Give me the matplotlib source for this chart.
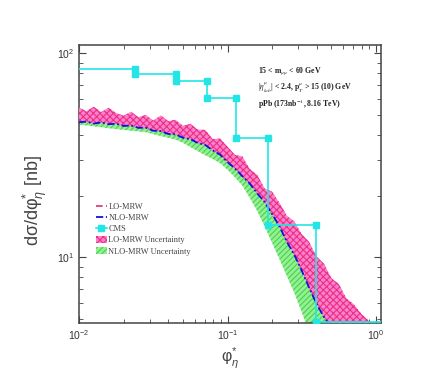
import matplotlib
matplotlib.use("Agg")
import matplotlib.pyplot as plt
from matplotlib.ticker import LogLocator, NullFormatter
from matplotlib.patches import Patch
from matplotlib.lines import Line2D

# ---------------- data ----------------
phi = [0.0100, 0.0112, 0.0126, 0.0141, 0.0158, 0.0178, 0.0200, 0.0224, 0.0251, 0.0282,
       0.0316, 0.0355, 0.0398, 0.0447, 0.0501, 0.0562, 0.0631, 0.0708, 0.0794, 0.0891,
       0.1000, 0.1122, 0.1259, 0.1413, 0.1585, 0.1778, 0.1995, 0.2239, 0.2512, 0.2818,
       0.3162, 0.3548, 0.3981, 0.4467, 0.5012, 0.5623, 0.6310, 0.7079, 0.7943, 0.8913,
       1.0000, 1.1220]

lo_upper = [54.3, 52.1, 54.8, 51.6, 54.2, 51.1, 49.5, 51.8, 48.7, 50.0,
            46.9, 49.7, 46.6, 47.3, 44.2, 45.2, 42.3, 42.2, 38.0, 38.3,
            34.9, 31.8, 31.3, 27.1, 25.4, 21.8, 21.0, 18.5, 16.0, 15.0,
            13.0, 11.9, 10.1, 9.3, 7.9, 7.4, 6.3, 5.9, 5.3, 4.9,
            4.3, 3.7]

lo_mrw = [46.0, 46.3, 45.3, 45.9, 45.0, 45.2, 44.1, 44.3, 43.2, 43.2,
          41.8, 41.6, 40.3, 40.1, 38.6, 38.0, 36.4, 35.6, 33.5, 31.9,
          29.3, 27.3, 25.0, 23.0, 20.6, 18.7, 16.3, 14.2, 11.9, 10.3,
          8.6, 7.1, 5.9, 5.1, 4.5, 3.9, 3.4, 3.0, 2.6, 2.3,
          2.0, 1.8]

nlo_mrw = [46.0, 46.3, 45.3, 45.9, 45.0, 45.2, 44.1, 44.3, 43.2, 43.2,
           41.8, 41.6, 40.3, 40.1, 38.6, 38.0, 36.4, 35.6, 33.5, 31.9,
           29.3, 27.3, 25.0, 23.0, 20.6, 18.7, 16.3, 14.2, 11.9, 10.3,
           8.6, 7.1, 5.9, 5.1, 4.5, 3.9, 3.4, 3.0, 2.6, 2.3,
           2.0, 1.8]

nlo_lower = [44.8, 44.4, 43.9, 43.5, 43.0, 42.6, 42.2, 41.8, 41.5, 41.1,
             40.2, 39.4, 38.6, 37.8, 36.5, 34.8, 33.2, 31.7, 30.4, 29.0,
             26.9, 24.7, 22.5, 19.6, 16.9, 14.2, 11.8, 9.8, 8.1, 6.7,
             5.4, 4.3, 3.4, 2.7, 2.2, 1.8, 1.5, 1.3, 1.1, 1.0,
             0.9, 0.8]

cms_edges = [0.005, 0.0239, 0.0450, 0.0723, 0.1133, 0.1882, 0.3919, 1.5]
cms_values = [83.9, 79.3, 73.0, 60.5, 38.7, 14.4, 4.8]

annot = [r"15 < m$_{\mu\mu}$ < 60 GeV",
         r"|$\eta^{\mu}_{lab}$| < 2.4, p$^{\mu}_{T}$ > 15 (10) GeV",
         r"pPb (173nb$^{-1}$, 8.16 TeV)"]

# ---------------- style ----------------
plt.rcParams["font.family"] = ["Liberation Sans", "DejaVu Sans"]
plt.rcParams["mathtext.fontset"] = "custom"
plt.rcParams["mathtext.rm"] = "Liberation Sans"
plt.rcParams["mathtext.it"] = "Liberation Sans:italic"
plt.rcParams["mathtext.bf"] = "Liberation Sans:bold"
plt.rcParams["hatch.linewidth"] = 0.8

fig = plt.figure(figsize=(4.42, 3.87), dpi=100)
ax = fig.add_axes([79/442, 1-323/387, (381-79)/442, (323-45)/387])
ax.set_xscale("log")
ax.set_yscale("log")

c_pink_face = "#ff80c8"
c_pink_hatch = "#e8308a"
c_green_face = "#90f290"
c_green_hatch = "#52cc52"
c_cyan = "#22e6e6"

ax.plot(phi, lo_mrw, color="#e0306a", linestyle=(0, (4, 2)), lw=1.2, zorder=1)
ax.fill_between(phi, nlo_lower, nlo_mrw, facecolor=c_green_face, edgecolor=c_green_hatch,
                hatch="//////", linewidth=0, zorder=2)
ax.fill_between(phi, lo_mrw, lo_upper, facecolor=c_pink_face, edgecolor=c_pink_hatch,
                hatch="xxxxx", linewidth=0, zorder=3)
ax.plot(phi, nlo_mrw, color="#1010e0", linestyle=(0, (4, 1.5, 1, 1.5)), lw=1.3, zorder=4)

cx, cy = [], []
for i, v in enumerate(cms_values):
    cx += [cms_edges[i], cms_edges[i+1]]
    cy += [v, v]
ax.plot(cx, cy, color=c_cyan, lw=1.2, marker="s", markersize=4.0, zorder=5)

ax.set_xlim(0.01, 1.08)
ax.set_ylim(4.77, 110)

ax.xaxis.set_major_locator(LogLocator(base=10, numticks=10))
ax.xaxis.set_minor_locator(LogLocator(base=10, subs=range(2, 10), numticks=20))
ax.yaxis.set_major_locator(LogLocator(base=10, numticks=10))
ax.yaxis.set_minor_locator(LogLocator(base=10, subs=range(2, 10), numticks=20))
ax.xaxis.set_minor_formatter(NullFormatter())
ax.yaxis.set_minor_formatter(NullFormatter())

ax.tick_params(which="both", direction="in", top=True, right=True, colors="#444444",
               labelcolor="#333333", labelsize=7.5)
ax.tick_params(which="major", length=5, width=0.8)
ax.tick_params(which="minor", length=3, width=0.6)
for s in ax.spines.values():
    s.set_color("#444444")
    s.set_linewidth(1.1)

ax.set_ylabel("dσ/dφ" + r"$^{*}_{\eta}$ [nb]", fontsize=13, color="#444444")
ax.yaxis.set_label_coords(-0.10, 0.44)
ax.set_xlabel("φ" + r"$^{*}_{\eta}$", fontsize=11.5, color="#444444", labelpad=3)

ys = [0.905, 0.845, 0.788]
for t, yy in zip(annot, ys):
    ax.text(0.593, yy, t, transform=ax.transAxes, fontsize=5.6, fontweight="bold",
            family="Liberation Serif", math_fontfamily="stix", color="#222222",
            va="center", ha="left", zorder=6)

handles = [
    Line2D([], [], color="#e0306a", linestyle=(0, (4, 2)), lw=1.2),
    Line2D([], [], color="#1010e0", linestyle=(0, (4, 1.5, 1, 1.5)), lw=1.3),
    Line2D([], [], color=c_cyan, lw=1.2, marker="s", markersize=4.0),
    Patch(facecolor=c_pink_face, edgecolor=c_pink_hatch, hatch="xxxxx", linewidth=0),
    Patch(facecolor=c_green_face, edgecolor=c_green_hatch, hatch="//////", linewidth=0),
]
labels = ["LO-MRW", "NLO-MRW", "CMS", "LO-MRW Uncertainty", "NLO-MRW Uncertainty"]
leg = ax.legend(handles, labels, loc="upper left", bbox_to_anchor=(0.045, 0.445),
                frameon=False, prop={"family": "Liberation Serif", "size": 6.0},
                handlelength=1.3, handleheight=1.0, labelspacing=0.3,
                handletextpad=0.2, borderaxespad=0)
for t in leg.get_texts():
    t.set_color("#444444")

fig.savefig("out.png", dpi=100)
